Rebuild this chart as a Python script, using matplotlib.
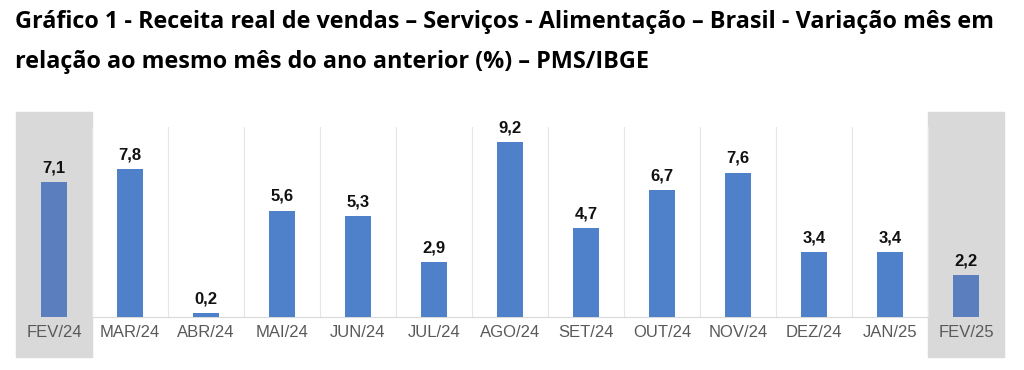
import matplotlib.pyplot as plt
import matplotlib.transforms as mtransforms

# dados
meses = ['FEV/24', 'MAR/24', 'ABR/24', 'MAI/24', 'JUN/24', 'JUL/24', 'AGO/24',
         'SET/24', 'OUT/24', 'NOV/24', 'DEZ/24', 'JAN/25', 'FEV/25']
variacao = [7.1, 7.8, 0.2, 5.6, 5.3, 2.9, 9.2, 4.7, 6.7, 7.6, 3.4, 3.4, 2.2]
destaque = ['FEV/24', 'FEV/25']

titulo1 = 'Gráfico 1 - Receita real de vendas – Serviços - Alimentação – Brasil - Variação mês em'
titulo2 = 'relação ao mesmo mês do ano anterior (%) – PMS/IBGE'

fig = plt.figure(figsize=(10.24, 3.7), dpi=100)
ax = fig.add_axes([16 / 1024, 53 / 370, 988 / 1024, 190 / 370])

x = list(range(len(meses)))
cores = ['#5B7FBE' if m in destaque else '#4F80CA' for m in meses]
ax.bar(x, variacao, width=0.34, color=cores, zorder=3)

for xi, v in zip(x, variacao):
    ax.text(xi, v + 0.35, f'{v:.1f}'.replace('.', ','), ha='center', va='bottom',
            fontsize=12, fontweight='bold', family='Liberation Sans', color='#111111')

# faixas cinzas
trans = mtransforms.blended_transform_factory(ax.transData, ax.transAxes)
for m in destaque:
    i = meses.index(m)
    ax.add_patch(plt.Rectangle((i - 0.5, -0.21), 1.0, 1.29, transform=trans,
                               color='#D9D9D9', zorder=0, clip_on=False))

for b in range(len(meses) - 1):
    ax.axvline(b + 0.5, color='#E6E6E6', lw=0.8, zorder=1)

ax.set_xlim(-0.5, len(meses) - 0.5)
ax.set_ylim(0, 10)
ax.set_yticks([])
ax.set_xticks(x)
ax.set_xticklabels(meses, fontsize=12, family='Liberation Sans', color='#595959')
ax.tick_params(axis='x', length=0, pad=6)
for s in ['top', 'left', 'right']:
    ax.spines[s].set_visible(False)
ax.spines['bottom'].set_color('#D9D9D9')
ax.patch.set_alpha(0)

fig.text(15 / 1024, 1 - 28 / 370, titulo1, fontsize=16.8, fontweight='bold',
         family='Open Sans', va='baseline')
fig.text(15 / 1024, 1 - 68 / 370, titulo2, fontsize=16.8, fontweight='bold',
         family='Open Sans', va='baseline')

fig.savefig('out.png', dpi=100)
